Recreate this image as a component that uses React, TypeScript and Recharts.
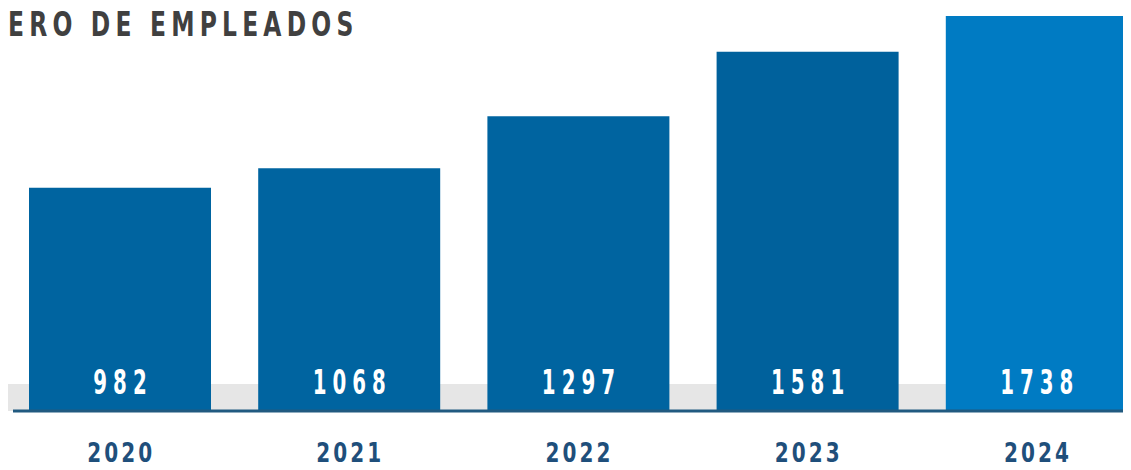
import React from 'react';
import { BarChart, Bar, XAxis, YAxis, Cell, LabelList, ReferenceArea } from 'recharts';

const years = ['2020', '2021', '2022', '2023', '2024'];
const employees = [982, 1068, 1297, 1581, 1738];
const barColors = ['#0064a0', '#0064a0', '#0064a0', '#00619c', '#007bc3'];

const data = years.map((year, i) => ({ year, employees: employees[i] }));

const FONT = "'DejaVu Sans', sans-serif";

// glyphs are squeezed horizontally to get the tall condensed look
const YearTick = (props: any) => {
  const { x, y, payload } = props;
  const ls = 4;
  return (
    <text
      transform={`translate(${x}, ${y + 43}) scale(0.77, 1)`}
      dx={ls / 2}
      textAnchor="middle"
      fill="#1f4f7b"
      style={{ fontFamily: FONT, fontWeight: 700, fontSize: 26, letterSpacing: ls }}
    >
      {payload.value}
    </text>
  );
};

const ValueLabel = (props: any) => {
  const { x, y, width, height, value } = props;
  const ls = 10;
  return (
    <text
      transform={`translate(${x + width / 2}, ${y + height - 17}) scale(0.6, 1)`}
      dx={ls / 2}
      textAnchor="middle"
      fill="#ffffff"
      style={{ fontFamily: FONT, fontWeight: 700, fontSize: 33, letterSpacing: ls }}
    >
      {value}
    </text>
  );
};

export default function App() {
  return (
    <div style={{ position: 'relative', width: 1131, height: 470, margin: -8, overflow: 'hidden', background: '#fff' }}>
      <div
        style={{
          position: 'absolute',
          left: 8,
          top: 2,
          fontFamily: FONT,
          fontWeight: 700,
          fontSize: 33,
          lineHeight: '46px',
          letterSpacing: 7.3,
          color: '#404040',
          whiteSpace: 'nowrap',
          transform: 'scale(0.71, 1)',
          transformOrigin: 'left top',
          zIndex: 2,
        }}
      >
        ERO DE EMPLEADOS
      </div>
      <BarChart
        width={1151}
        height={470}
        data={data}
        margin={{ top: 16, right: 0, left: 13, bottom: 0 }}
      >
        <YAxis hide domain={[0, 1738]} />
        <XAxis
          dataKey="year"
          height={59}
          tickLine={false}
          padding={{ left: -8, right: 0 }}
          axisLine={{ stroke: '#215a80', strokeWidth: 3 }}
          tick={<YearTick />}
          interval={0}
        />
        <ReferenceArea y1={0} y2={119} fill="#e6e6e6" fillOpacity={1} stroke="none" />
        <Bar dataKey="employees" barSize={182} isAnimationActive={false}>
          {data.map((d, i) => (
            <Cell key={d.year} fill={barColors[i]} />
          ))}
          <LabelList dataKey="employees" content={<ValueLabel />} />
        </Bar>
      </BarChart>
    </div>
  );
}
